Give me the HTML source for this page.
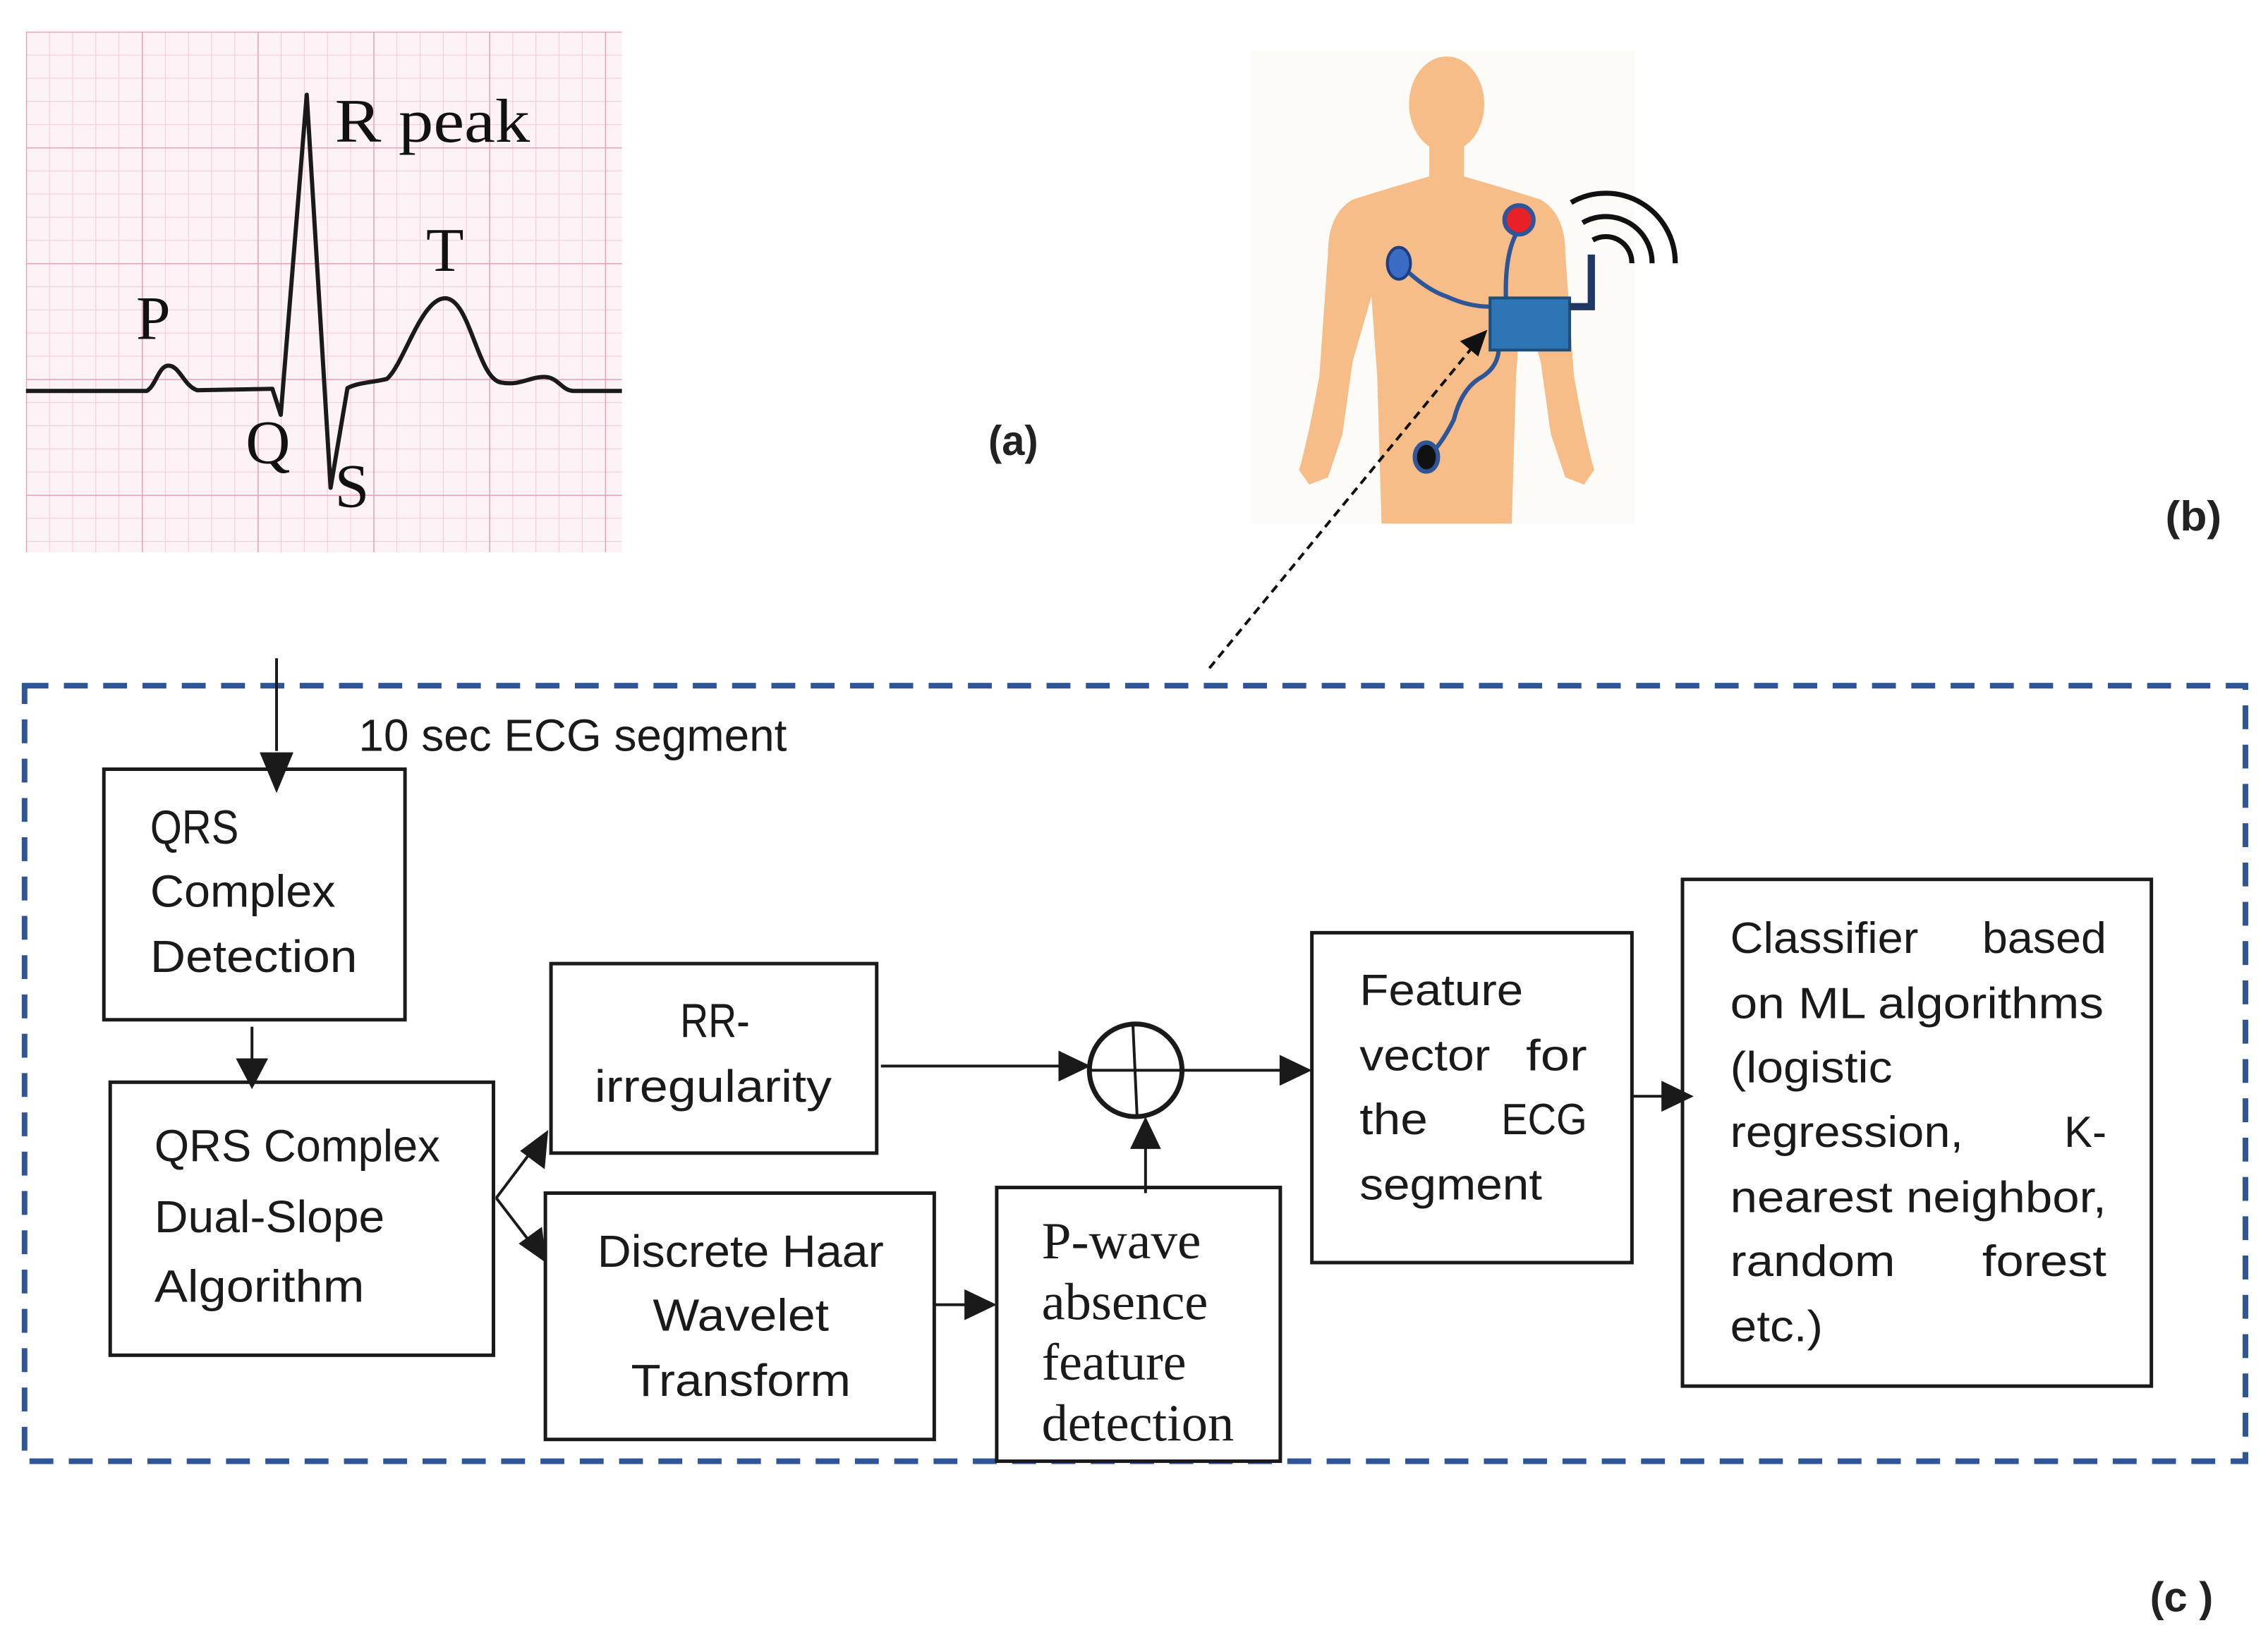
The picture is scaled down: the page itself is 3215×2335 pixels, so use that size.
<!DOCTYPE html>
<html><head><meta charset="utf-8"><style>html,body{margin:0;padding:0;background:#fff}svg{display:block}</style></head>
<body>
<svg width="3215" height="2335" viewBox="0 0 3215 2335" xmlns="http://www.w3.org/2000/svg">
<defs>
<pattern id="minor" width="33" height="33" patternUnits="userSpaceOnUse" x="37" y="45">
<path d="M0 0H33M0 0V33" stroke="#f3c9d6" stroke-width="2" fill="none"/>
</pattern>
<pattern id="major" width="165" height="165" patternUnits="userSpaceOnUse" x="37" y="45">
<path d="M0 0H165M0 0V165" stroke="#e9a0b8" stroke-width="3" fill="none"/>
</pattern>
</defs>
<rect width="3215" height="2335" fill="#fff"/>
<g transform="scale(0.995)">
<!-- ECG -->
<rect x="37" y="45" width="849" height="742" fill="#fdf2f5"/>
<rect x="37" y="45" width="849" height="742" fill="url(#minor)"/>
<rect x="37" y="45" width="849" height="742" fill="url(#major)"/>
<path d="M37 557 L209 557 C222 550 226 521 240 521 C256 521 262 550 281 556 L388 554 L400 591 L437 135 L471 695 L495 553 C510 545 530 545 551 540 C575 520 600 425 634 425 C670 425 680 540 714 545 C740 550 755 537 775 537 C795 537 800 556 816 557 L886 557" fill="none" stroke="#1a1a1a" stroke-width="6" stroke-linejoin="round"/>
<g font-family="Liberation Serif, serif" fill="#111">
<text x="477" y="202" font-size="88" textLength="278" lengthAdjust="spacingAndGlyphs">R peak</text>
<text x="607" y="386" font-size="88">T</text>
<text x="194" y="483" font-size="88">P</text>
<text x="350" y="660" font-size="88">Q</text>
<text x="477" y="722" font-size="88">S</text>
</g>
<text x="1408" y="648" font-family="Liberation Sans, sans-serif" font-weight="bold" font-size="60" fill="#222" textLength="71" lengthAdjust="spacingAndGlyphs">(a)</text>

<!-- Human figure -->
<g transform="scale(2.061)">
<rect x="865" y="35" width="265" height="327" fill="#fdfbf8"/>
<ellipse cx="1000" cy="72" rx="26" ry="33" fill="#f6bd88"/>
<path d="M988 100 L988 122 Q960 130 935 138 Q918 148 918 175 L912 260 Q905 300 898 325 L905 335 L918 330 L928 300 L935 250 L948 205 L952 260 L955 362 L1045 362 L1048 260 L1052 205 L1065 250 L1072 300 L1082 330 L1095 335 L1102 325 Q1095 300 1088 260 L1082 175 Q1082 148 1065 138 Q1040 130 1012 122 L1012 100 Z" fill="#f6bd88"/>
<path d="M967 182 Q985 200 1000 205 Q1015 212 1030 212" fill="none" stroke="#2e5597" stroke-width="3"/>
<path d="M1049 160 Q1040 175 1041 207" fill="none" stroke="#2e5597" stroke-width="3"/>
<path d="M1036 242 Q1035 255 1022 262 Q1010 270 1005 290 Q995 310 986 316" fill="none" stroke="#2e5597" stroke-width="3"/>
<ellipse cx="967" cy="182" rx="8" ry="11" fill="#3b6cc4" stroke="#1f3e80" stroke-width="2"/>
<circle cx="1050" cy="152" r="10" fill="#e8202a" stroke="#2e5597" stroke-width="3"/>
<ellipse cx="986" cy="316" rx="8" ry="10" fill="#111" stroke="#2e5597" stroke-width="3"/>
<rect x="1030" y="206" width="55" height="36" fill="#2e75b6" stroke="#1f4e79" stroke-width="2"/>
<path d="M1085 212 L1100 212 L1100 176" fill="none" stroke="#1f3864" stroke-width="5"/>
<g fill="none" stroke="#111" stroke-width="3.5">
<path d="M1101 166 A18 18 0 0 1 1128 182"/>
<path d="M1094 154 A32 32 0 0 1 1142 182"/>
<path d="M1086 140 A48 48 0 0 1 1158 182"/>
</g>
</g>
<text x="3085" y="756" font-family="Liberation Sans, sans-serif" font-weight="bold" font-size="60" fill="#222" textLength="80" lengthAdjust="spacingAndGlyphs">(b)</text>

<!-- dashed pointer -->
<line x1="1723" y1="952" x2="2100" y2="492" stroke="#111" stroke-width="4" stroke-dasharray="12 8"/>
<polygon points="2119,470 2080,486 2106,508" fill="#111"/>

<!-- blue dashed box -->
<rect x="35" y="977" width="3164" height="1105" fill="none" stroke="#2f5597" stroke-width="8" stroke-dasharray="34 22"/>

<g stroke="#1a1a1a" stroke-width="5" fill="#fff">
<rect x="148" y="1096" width="429" height="357"/>
<rect x="157" y="1542" width="546" height="389"/>
<rect x="785" y="1373" width="464" height="270"/>
<rect x="777" y="1700" width="554" height="351"/>
<rect x="1420" y="1692" width="404" height="390"/>
<rect x="1869" y="1329" width="456" height="470"/>
<rect x="2397" y="1253" width="668" height="722"/>
<circle cx="1618" cy="1525" r="66" stroke-width="7"/>
</g>
<path d="M1552 1525 H1684 M1614 1459 L1620 1591" stroke="#1a1a1a" stroke-width="4"/>

<!-- connectors -->
<g stroke="#1a1a1a" stroke-width="4" fill="none">
<line x1="394" y1="938" x2="394" y2="1070"/>
<line x1="359" y1="1463" x2="359" y2="1520"/>
<line x1="707" y1="1707" x2="765" y2="1630"/>
<line x1="707" y1="1707" x2="763" y2="1780"/>
<line x1="1255" y1="1519" x2="1522" y2="1519"/>
<line x1="1686" y1="1525" x2="1840" y2="1525"/>
<line x1="1331" y1="1859" x2="1392" y2="1859"/>
<line x1="1632" y1="1700" x2="1632" y2="1620"/>
<line x1="2325" y1="1562" x2="2385" y2="1562"/>
</g>
<g fill="#1a1a1a">
<polygon points="394,1130 370,1072 418,1072"/>
<polygon points="359,1552 336,1508 382,1508"/>
<polygon points="781,1610 776,1666 741,1640"/>
<polygon points="779,1800 739,1772 772,1748"/>
<polygon points="1554,1519 1508,1497 1508,1541"/>
<polygon points="1869,1525 1823,1503 1823,1547"/>
<polygon points="1420,1859 1374,1837 1374,1881"/>
<polygon points="1632,1591 1610,1637 1654,1637"/>
<polygon points="2413,1562 2367,1540 2367,1584"/>
</g>

<!-- text -->
<g font-family="Liberation Sans, sans-serif" font-size="64" fill="#1a1a1a">
<text x="511" y="1070" textLength="610" lengthAdjust="spacingAndGlyphs">10 sec ECG segment</text>
<text x="214" y="1202" textLength="126" lengthAdjust="spacingAndGlyphs" font-size="68">QRS</text>
<text x="214" y="1292" textLength="264" lengthAdjust="spacingAndGlyphs">Complex</text>
<text x="214" y="1385" textLength="295" lengthAdjust="spacingAndGlyphs">Detection</text>
<text x="220" y="1655" textLength="407" lengthAdjust="spacingAndGlyphs">QRS Complex</text>
<text x="220" y="1756" textLength="328" lengthAdjust="spacingAndGlyphs">Dual-Slope</text>
<text x="220" y="1855" textLength="299" lengthAdjust="spacingAndGlyphs">Algorithm</text>
<text x="969" y="1478" textLength="99" lengthAdjust="spacingAndGlyphs" font-size="68">RR-</text>
<text x="847" y="1570" textLength="338" lengthAdjust="spacingAndGlyphs">irregularity</text>
<text x="851" y="1805" textLength="408" lengthAdjust="spacingAndGlyphs">Discrete Haar</text>
<text x="930" y="1896" textLength="251" lengthAdjust="spacingAndGlyphs">Wavelet</text>
<text x="899" y="1989" textLength="313" lengthAdjust="spacingAndGlyphs">Transform</text>
</g>
<g font-family="Liberation Serif, serif" font-size="74" fill="#1a1a1a">
<text x="1484" y="1793" textLength="227" lengthAdjust="spacingAndGlyphs">P-wave</text>
<text x="1484" y="1880" textLength="237" lengthAdjust="spacingAndGlyphs">absence</text>
<text x="1484" y="1966" textLength="206" lengthAdjust="spacingAndGlyphs">feature</text>
<text x="1484" y="2053" textLength="274" lengthAdjust="spacingAndGlyphs">detection</text>
</g>
<g font-family="Liberation Sans, sans-serif" font-size="62" fill="#1a1a1a">
<text x="1937" y="1432" textLength="233" lengthAdjust="spacingAndGlyphs">Feature</text>
<text x="1937" y="1525" textLength="186" lengthAdjust="spacingAndGlyphs">vector</text>
<text x="2174" y="1525" textLength="87" lengthAdjust="spacingAndGlyphs">for</text>
<text x="1937" y="1616" textLength="97" lengthAdjust="spacingAndGlyphs">the</text>
<text x="2139" y="1616" textLength="122" lengthAdjust="spacingAndGlyphs">ECG</text>
<text x="1937" y="1709" textLength="260" lengthAdjust="spacingAndGlyphs">segment</text>
<text x="2465" y="1358" textLength="268" lengthAdjust="spacingAndGlyphs">Classifier</text>
<text x="2824" y="1358" textLength="177" lengthAdjust="spacingAndGlyphs">based</text>
<text x="2465" y="1451" textLength="532" lengthAdjust="spacingAndGlyphs">on ML algorithms</text>
<text x="2465" y="1542" textLength="231" lengthAdjust="spacingAndGlyphs">(logistic</text>
<text x="2465" y="1634" textLength="332" lengthAdjust="spacingAndGlyphs">regression,</text>
<text x="2941" y="1634" textLength="60" lengthAdjust="spacingAndGlyphs">K-</text>
<text x="2465" y="1727" textLength="536" lengthAdjust="spacingAndGlyphs">nearest neighbor,</text>
<text x="2465" y="1818" textLength="235" lengthAdjust="spacingAndGlyphs">random</text>
<text x="2824" y="1818" textLength="177" lengthAdjust="spacingAndGlyphs">forest</text>
<text x="2465" y="1911" textLength="132" lengthAdjust="spacingAndGlyphs">etc.)</text>
</g>
<text x="3063" y="2296" font-family="Liberation Sans, sans-serif" font-weight="bold" font-size="60" fill="#222" textLength="90" lengthAdjust="spacingAndGlyphs">(c )</text>
</g>
</svg>
</body></html>
